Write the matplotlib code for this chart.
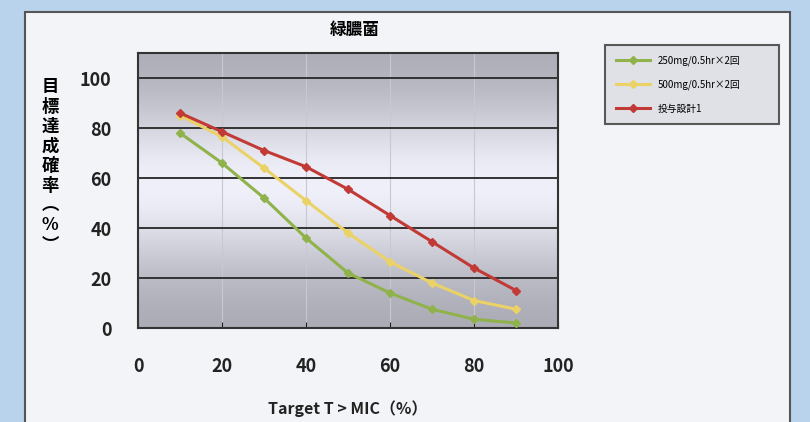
import numpy as np
import matplotlib
matplotlib.use('Agg')
import matplotlib.pyplot as plt
from matplotlib.patches import Rectangle

plt.rcParams['font.family'] = ['Noto Sans CJK JP', 'DejaVu Sans']

# data
target_pct = [10, 20, 30, 40, 50, 60, 70, 80, 90]
dose_250 = [78, 66, 52, 36, 22, 14, 7.5, 3.5, 2]
dose_500 = [85, 76.5, 64, 51, 38, 26.5, 18, 11, 7.5]
design_1 = [86, 78.5, 71, 64.5, 55.5, 45, 34.5, 24, 15]
series_labels = ['250mg/0.5hr×2回', '500mg/0.5hr×2回', '投与設計1']
xticks = [0, 20, 40, 60, 80, 100]
yticks = [0, 20, 40, 60, 80, 100]

W, H = 810, 422
fig = plt.figure(figsize=(W / 100, H / 100), dpi=100)
fig.patch.set_facecolor('#b9d3ec')

# outer panel, behind everything
panel = Rectangle((25 / W, -0.01), (790 - 25) / W, 1.01 - 12 / H, transform=fig.transFigure,
                  facecolor='#f3f4f7', edgecolor='#555555', linewidth=1.5, zorder=-10)
fig.patches.append(panel)

ax = fig.add_axes([138 / W, 1 - 328 / H, (558 - 138) / W, (328 - 53) / H])
ax.set_zorder(1)
ax.set_xlim(0, 100)
ax.set_ylim(0, 110)

# grey gradient background of the plot area
t = np.linspace(0, 1, 256)
shade = 0.66 + 0.28 * np.exp(-((t - 0.52) / 0.3) ** 2)
grad = np.stack([shade, shade, np.clip(shade + 0.04, 0, 1)], axis=-1)
grad = grad[:, None, :].repeat(2, axis=1)
ax.imshow(grad, extent=[0, 100, 0, 110], aspect='auto', origin='lower', zorder=0)

for x in xticks[1:-1]:
    ax.axvline(x, color='#c8c8d0', linewidth=0.8, zorder=1)
for y in yticks[1:]:
    ax.axhline(y, color='#333333', linewidth=1.4, zorder=1)

ax.plot(target_pct, dose_250, color='#8fb24a', linewidth=2.2, marker='D', markersize=4,
        label=series_labels[0], zorder=3)
ax.plot(target_pct, dose_500, color='#ead267', linewidth=2.2, marker='D', markersize=4,
        label=series_labels[1], zorder=3)
ax.plot(target_pct, design_1, color='#c23a35', linewidth=2.2, marker='D', markersize=4,
        label=series_labels[2], zorder=4)

ax.set_xticks(xticks)
ax.set_yticks(yticks)
ax.tick_params(axis='x', length=4, direction='in', pad=21, labelsize=13, colors='#222222')
ax.tick_params(axis='y', length=0, pad=19, labelsize=13, colors='#222222')
for lab in ax.get_xticklabels() + ax.get_yticklabels():
    lab.set_fontweight('bold')
for s in ax.spines.values():
    s.set_color('#333333')
    s.set_linewidth(1.5)

ax.set_xlabel('Target T > MIC（%）', fontsize=11.5, fontweight='bold', labelpad=17, color='#222222')

fig.text(355 / W, 1 - 30 / H, '緑膿菌', ha='center', va='center', fontsize=12, fontweight='bold')
fig.text(50 / W, 1 - 166 / H, '\n'.join('目標達成確率︵%︶'), ha='center', va='center',
         fontsize=12.5, fontweight='bold', linespacing=1.13)

leg = ax.legend(loc='upper left', bbox_to_anchor=(600 / W, 1 - 143 / H, (784 - 600) / W, (143 - 40) / H),
                bbox_transform=fig.transFigure, mode='expand', fontsize=7, frameon=True,
                fancybox=False, handlelength=3.5, labelspacing=1.4, borderpad=1.1)
leg.get_frame().set_facecolor('#dcdde3')
leg.get_frame().set_edgecolor('#333333')
leg.get_frame().set_linewidth(1.5)

fig.savefig('out.png', dpi=100)
